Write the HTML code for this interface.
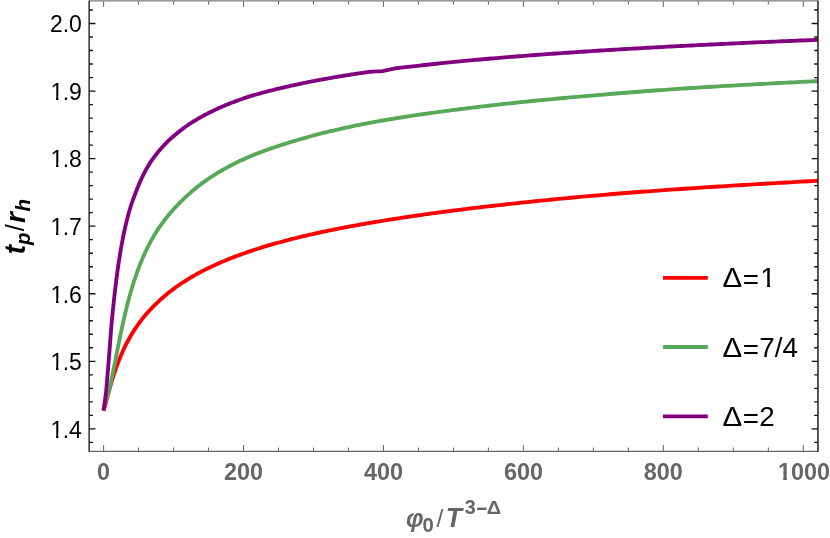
<!DOCTYPE html>
<html><head><meta charset="utf-8"><title>plot</title>
<style>html,body{margin:0;padding:0;background:#fff;}body{width:830px;height:538px;overflow:hidden;position:relative;}svg{display:block;position:absolute;left:0;top:0;}text{font-family:"Liberation Sans",sans-serif;}#labels{will-change:transform;filter:grayscale(1);}.b{font-weight:bold;}.i{font-style:italic;}</style></head><body>
<svg id="plot" width="830" height="538" viewBox="0 0 830 538">
<rect width="830" height="538" fill="#fff"/>
<defs><clipPath id="c"><rect x="89.15" y="0" width="728.8000000000001" height="451.3"/></clipPath></defs>
<g clip-path="url(#c)" fill="none" stroke-width="3.85" stroke-linejoin="round">
<path d="M103.40 410.75 L103.60 410.19 L103.60 410.18 L103.61 410.17 L103.61 410.15 L103.63 410.12 L103.64 410.07 L103.66 410.01 L103.69 409.94 L103.72 409.85 L103.75 409.75 L103.79 409.63 L103.84 409.50 L103.89 409.35 L103.94 409.18 L104.01 408.99 L104.07 408.79 L104.14 408.56 L104.22 408.31 L104.30 408.05 L104.39 407.75 L104.49 407.44 L104.59 407.10 L104.69 406.74 L104.81 406.35 L104.93 405.94 L105.05 405.51 L105.18 405.04 L105.32 404.55 L105.46 404.03 L105.61 403.49 L105.77 402.92 L105.93 402.32 L106.10 401.70 L106.27 401.05 L106.45 400.38 L106.64 399.67 L106.83 398.95 L107.04 398.19 L107.24 397.42 L107.46 396.61 L107.68 395.79 L107.91 394.94 L108.14 394.07 L108.38 393.18 L108.63 392.27 L108.89 391.34 L109.15 390.39 L109.42 389.42 L109.69 388.43 L109.97 387.43 L110.26 386.41 L110.56 385.38 L110.86 384.33 L111.18 383.27 L111.49 382.20 L111.82 381.11 L112.15 380.02 L112.49 378.91 L112.84 377.80 L113.19 376.67 L113.55 375.54 L113.92 374.41 L114.30 373.26 L114.68 372.11 L115.07 370.96 L115.47 369.80 L115.87 368.63 L116.29 367.47 L116.71 366.30 L117.13 365.13 L117.57 363.95 L118.01 362.78 L118.46 361.61 L118.92 360.43 L119.39 359.26 L119.86 358.08 L120.34 356.91 L120.83 355.74 L121.33 354.57 L121.83 353.40 L122.34 352.24 L122.86 351.08 L123.39 349.92 L123.92 348.77 L124.46 347.61 L125.01 346.47 L125.57 345.34 L126.14 344.22 L126.71 343.11 L127.29 342.00 L127.88 340.90 L128.48 339.80 L129.09 338.70 L129.70 337.61 L130.32 336.53 L130.95 335.45 L131.59 334.38 L132.23 333.32 L132.89 332.26 L133.55 331.21 L134.22 330.16 L134.90 329.12 L135.58 328.08 L136.28 327.06 L136.98 326.03 L137.69 325.02 L138.41 324.01 L139.13 323.01 L139.87 322.01 L140.61 321.03 L141.36 320.05 L142.12 319.07 L142.89 318.11 L143.66 317.15 L144.45 316.20 L145.24 315.26 L146.04 314.32 L146.85 313.40 L147.67 312.48 L148.49 311.56 L149.33 310.65 L150.17 309.75 L151.02 308.85 L151.88 307.96 L152.75 307.07 L153.62 306.19 L154.51 305.31 L155.40 304.43 L156.30 303.56 L157.21 302.69 L158.13 301.82 L159.06 300.96 L160.00 300.10 L160.94 299.24 L161.89 298.38 L162.85 297.53 L163.82 296.69 L164.80 295.86 L165.79 295.03 L166.79 294.20 L167.79 293.38 L168.80 292.57 L169.82 291.76 L170.85 290.96 L171.89 290.17 L172.94 289.38 L174.00 288.59 L175.06 287.81 L176.14 287.04 L177.22 286.27 L178.31 285.51 L179.41 284.75 L180.52 284.00 L181.64 283.25 L182.76 282.51 L183.90 281.77 L185.04 281.04 L186.20 280.31 L187.36 279.59 L188.53 278.87 L189.71 278.16 L190.90 277.45 L192.09 276.75 L193.30 276.05 L194.52 275.36 L195.74 274.67 L196.97 273.99 L198.21 273.31 L199.47 272.64 L200.73 271.97 L201.99 271.30 L203.27 270.64 L204.56 269.99 L205.85 269.34 L207.16 268.69 L208.47 268.05 L209.80 267.41 L211.13 266.77 L212.47 266.14 L213.82 265.52 L215.18 264.89 L216.55 264.28 L217.92 263.66 L219.31 263.05 L220.71 262.45 L222.11 261.84 L223.53 261.25 L224.95 260.65 L226.38 260.06 L227.82 259.47 L229.27 258.89 L230.73 258.31 L232.20 257.74 L233.68 257.17 L235.17 256.60 L236.66 256.03 L238.17 255.47 L239.68 254.91 L241.21 254.36 L242.74 253.81 L244.28 253.26 L245.84 252.72 L247.40 252.18 L248.97 251.64 L250.55 251.11 L252.14 250.58 L253.74 250.05 L255.35 249.52 L256.96 249.00 L258.59 248.49 L260.23 247.97 L261.87 247.46 L263.53 246.95 L265.19 246.44 L266.86 245.94 L268.55 245.44 L270.24 244.95 L271.94 244.45 L273.65 243.96 L275.37 243.47 L277.10 242.99 L278.84 242.51 L280.59 242.03 L282.35 241.55 L284.12 241.08 L285.90 240.61 L287.69 240.14 L289.48 239.67 L291.29 239.21 L293.10 238.75 L294.93 238.29 L296.76 237.84 L298.61 237.38 L300.46 236.93 L302.33 236.49 L304.20 236.04 L306.08 235.60 L307.98 235.16 L309.88 234.72 L311.79 234.29 L313.71 233.85 L315.64 233.42 L317.58 233.00 L319.53 232.57 L321.49 232.15 L323.46 231.73 L325.44 231.31 L327.43 230.89 L329.43 230.48 L331.43 230.06 L333.45 229.65 L335.48 229.25 L337.52 228.84 L339.56 228.44 L341.62 228.04 L343.69 227.64 L345.76 227.24 L347.85 226.85 L349.95 226.45 L352.05 226.06 L354.17 225.67 L356.29 225.29 L358.43 224.90 L360.57 224.52 L362.73 224.14 L364.89 223.76 L367.06 223.38 L369.25 223.01 L371.44 222.63 L373.65 222.26 L375.86 221.89 L378.08 221.53 L380.32 221.16 L382.56 220.80 L384.81 220.44 L387.07 220.07 L389.35 219.71 L391.63 219.36 L393.92 219.00 L396.22 218.64 L398.54 218.28 L400.86 217.93 L403.19 217.58 L405.53 217.22 L407.89 216.87 L410.25 216.52 L412.62 216.17 L415.00 215.83 L417.39 215.48 L419.80 215.13 L422.21 214.79 L424.63 214.45 L427.06 214.11 L429.50 213.77 L431.96 213.43 L434.42 213.09 L436.89 212.76 L439.37 212.42 L441.87 212.09 L444.37 211.76 L446.88 211.43 L449.40 211.10 L451.93 210.78 L454.48 210.45 L457.03 210.13 L459.59 209.81 L462.17 209.49 L464.75 209.17 L467.34 208.85 L469.94 208.53 L472.56 208.21 L475.18 207.90 L477.82 207.58 L480.46 207.27 L483.11 206.96 L485.78 206.65 L488.45 206.34 L491.14 206.03 L493.83 205.72 L496.54 205.41 L499.25 205.11 L501.98 204.80 L504.71 204.50 L507.46 204.20 L510.21 203.90 L512.98 203.60 L515.75 203.30 L518.54 203.00 L521.34 202.70 L524.15 202.41 L526.96 202.11 L529.79 201.82 L532.63 201.53 L535.48 201.24 L538.33 200.94 L541.20 200.65 L544.08 200.36 L546.97 200.07 L549.87 199.78 L552.78 199.49 L555.70 199.20 L558.63 198.92 L561.57 198.63 L564.52 198.34 L567.48 198.06 L570.46 197.78 L573.44 197.50 L576.43 197.22 L579.43 196.94 L582.45 196.66 L585.47 196.39 L588.51 196.12 L591.55 195.85 L594.60 195.59 L597.67 195.32 L600.75 195.06 L603.83 194.80 L606.93 194.55 L610.04 194.29 L613.15 194.03 L616.28 193.78 L619.42 193.53 L622.57 193.27 L625.73 193.02 L628.90 192.78 L632.08 192.53 L635.27 192.28 L638.47 192.04 L641.68 191.79 L644.90 191.55 L648.13 191.31 L651.38 191.07 L654.63 190.83 L657.89 190.60 L661.17 190.36 L664.45 190.13 L667.75 189.90 L671.06 189.67 L674.37 189.44 L677.70 189.21 L681.04 188.98 L684.39 188.75 L687.75 188.53 L691.11 188.30 L694.49 188.08 L697.89 187.85 L701.29 187.63 L704.70 187.41 L708.12 187.18 L711.55 186.96 L715.00 186.74 L718.45 186.52 L721.92 186.31 L725.39 186.09 L728.88 185.87 L732.37 185.66 L735.88 185.44 L739.40 185.23 L742.93 185.01 L746.47 184.80 L750.02 184.59 L753.58 184.38 L757.15 184.17 L760.73 183.96 L764.32 183.75 L767.93 183.54 L771.54 183.33 L775.17 183.12 L778.80 182.92 L782.45 182.71 L786.11 182.51 L789.77 182.30 L793.45 182.10 L797.14 181.90 L800.84 181.70 L804.55 181.49 L808.27 181.29 L812.00 181.09 L815.75 180.90 L819.50 180.70" stroke="#ff0000"/>
<path d="M103.52 410.53 L103.60 409.94 L103.60 409.93 L103.61 409.90 L103.61 409.84 L103.63 409.75 L103.64 409.64 L103.66 409.50 L103.69 409.32 L103.72 409.12 L103.75 408.89 L103.79 408.63 L103.84 408.35 L103.89 408.04 L103.94 407.71 L104.01 407.36 L104.07 406.99 L104.14 406.60 L104.22 406.20 L104.30 405.79 L104.39 405.37 L104.49 404.94 L104.59 404.50 L104.69 404.06 L104.81 403.61 L104.93 403.15 L105.05 402.70 L105.18 402.23 L105.32 401.76 L105.46 401.29 L105.61 400.81 L105.77 400.32 L105.93 399.82 L106.10 399.30 L106.27 398.77 L106.45 398.23 L106.64 397.66 L106.83 397.07 L107.04 396.45 L107.24 395.81 L107.46 395.13 L107.68 394.42 L107.91 393.67 L108.14 392.87 L108.38 392.04 L108.63 391.16 L108.89 390.22 L109.15 389.24 L109.42 388.20 L109.69 387.11 L109.97 385.97 L110.26 384.76 L110.56 383.50 L110.86 382.17 L111.18 380.79 L111.49 379.35 L111.82 377.85 L112.15 376.29 L112.49 374.67 L112.84 372.99 L113.19 371.26 L113.55 369.48 L113.92 367.64 L114.30 365.75 L114.68 363.81 L115.07 361.83 L115.47 359.80 L115.87 357.73 L116.29 355.63 L116.71 353.48 L117.13 351.30 L117.57 349.10 L118.01 346.86 L118.46 344.60 L118.92 342.32 L119.39 340.01 L119.86 337.69 L120.34 335.36 L120.83 333.02 L121.33 330.66 L121.83 328.30 L122.34 325.94 L122.86 323.57 L123.39 321.21 L123.92 318.85 L124.46 316.49 L125.01 314.14 L125.57 311.79 L126.14 309.46 L126.71 307.14 L127.29 304.83 L127.88 302.54 L128.48 300.26 L129.09 297.99 L129.70 295.75 L130.32 293.53 L130.95 291.34 L131.59 289.17 L132.23 287.02 L132.89 284.89 L133.55 282.79 L134.22 280.70 L134.90 278.64 L135.58 276.61 L136.28 274.60 L136.98 272.61 L137.69 270.65 L138.41 268.71 L139.13 266.79 L139.87 264.90 L140.61 263.03 L141.36 261.19 L142.12 259.37 L142.89 257.58 L143.66 255.81 L144.45 254.06 L145.24 252.34 L146.04 250.64 L146.85 248.97 L147.67 247.31 L148.49 245.68 L149.33 244.07 L150.17 242.49 L151.02 240.92 L151.88 239.38 L152.75 237.85 L153.62 236.35 L154.51 234.86 L155.40 233.40 L156.30 231.95 L157.21 230.52 L158.13 229.12 L159.06 227.73 L160.00 226.37 L160.94 225.02 L161.89 223.70 L162.85 222.39 L163.82 221.09 L164.80 219.81 L165.79 218.54 L166.79 217.28 L167.79 216.03 L168.80 214.79 L169.82 213.57 L170.85 212.36 L171.89 211.16 L172.94 209.98 L174.00 208.81 L175.06 207.65 L176.14 206.50 L177.22 205.36 L178.31 204.23 L179.41 203.10 L180.52 201.97 L181.64 200.86 L182.76 199.76 L183.90 198.66 L185.04 197.58 L186.20 196.50 L187.36 195.44 L188.53 194.38 L189.71 193.34 L190.90 192.30 L192.09 191.28 L193.30 190.26 L194.52 189.25 L195.74 188.25 L196.97 187.25 L198.21 186.26 L199.47 185.29 L200.73 184.32 L201.99 183.36 L203.27 182.42 L204.56 181.49 L205.85 180.57 L207.16 179.66 L208.47 178.76 L209.80 177.87 L211.13 176.99 L212.47 176.12 L213.82 175.26 L215.18 174.40 L216.55 173.56 L217.92 172.72 L219.31 171.89 L220.71 171.07 L222.11 170.26 L223.53 169.45 L224.95 168.66 L226.38 167.87 L227.82 167.09 L229.27 166.31 L230.73 165.54 L232.20 164.78 L233.68 164.03 L235.17 163.28 L236.66 162.54 L238.17 161.81 L239.68 161.08 L241.21 160.36 L242.74 159.65 L244.28 158.95 L245.84 158.25 L247.40 157.57 L248.97 156.89 L250.55 156.21 L252.14 155.55 L253.74 154.89 L255.35 154.25 L256.96 153.60 L258.59 152.97 L260.23 152.34 L261.87 151.72 L263.53 151.11 L265.19 150.50 L266.86 149.89 L268.55 149.30 L270.24 148.70 L271.94 148.12 L273.65 147.53 L275.37 146.96 L277.10 146.38 L278.84 145.81 L280.59 145.24 L282.35 144.68 L284.12 144.12 L285.90 143.56 L287.69 143.00 L289.48 142.45 L291.29 141.90 L293.10 141.35 L294.93 140.80 L296.76 140.25 L298.61 139.71 L300.46 139.17 L302.33 138.63 L304.20 138.10 L306.08 137.57 L307.98 137.04 L309.88 136.51 L311.79 135.99 L313.71 135.47 L315.64 134.95 L317.58 134.44 L319.53 133.94 L321.49 133.43 L323.46 132.93 L325.44 132.44 L327.43 131.95 L329.43 131.47 L331.43 130.99 L333.45 130.51 L335.48 130.04 L337.52 129.57 L339.56 129.10 L341.62 128.63 L343.69 128.17 L345.76 127.71 L347.85 127.26 L349.95 126.81 L352.05 126.36 L354.17 125.92 L356.29 125.48 L358.43 125.04 L360.57 124.61 L362.73 124.18 L364.89 123.76 L367.06 123.34 L369.25 122.93 L371.44 122.52 L373.65 122.11 L375.86 121.71 L378.08 121.31 L380.32 120.92 L382.56 120.52 L384.81 120.13 L387.07 119.75 L389.35 119.36 L391.63 118.98 L393.92 118.60 L396.22 118.23 L398.54 117.86 L400.86 117.49 L403.19 117.12 L405.53 116.76 L407.89 116.39 L410.25 116.03 L412.62 115.68 L415.00 115.32 L417.39 114.97 L419.80 114.62 L422.21 114.27 L424.63 113.92 L427.06 113.57 L429.50 113.23 L431.96 112.89 L434.42 112.55 L436.89 112.21 L439.37 111.87 L441.87 111.54 L444.37 111.20 L446.88 110.87 L449.40 110.54 L451.93 110.21 L454.48 109.88 L457.03 109.55 L459.59 109.22 L462.17 108.90 L464.75 108.58 L467.34 108.25 L469.94 107.93 L472.56 107.61 L475.18 107.30 L477.82 106.98 L480.46 106.67 L483.11 106.36 L485.78 106.04 L488.45 105.73 L491.14 105.43 L493.83 105.12 L496.54 104.82 L499.25 104.51 L501.98 104.21 L504.71 103.91 L507.46 103.61 L510.21 103.32 L512.98 103.02 L515.75 102.73 L518.54 102.44 L521.34 102.15 L524.15 101.86 L526.96 101.57 L529.79 101.29 L532.63 101.00 L535.48 100.72 L538.33 100.44 L541.20 100.16 L544.08 99.88 L546.97 99.60 L549.87 99.32 L552.78 99.05 L555.70 98.77 L558.63 98.50 L561.57 98.23 L564.52 97.96 L567.48 97.69 L570.46 97.42 L573.44 97.15 L576.43 96.89 L579.43 96.62 L582.45 96.36 L585.47 96.10 L588.51 95.84 L591.55 95.58 L594.60 95.32 L597.67 95.06 L600.75 94.80 L603.83 94.55 L606.93 94.29 L610.04 94.03 L613.15 93.78 L616.28 93.52 L619.42 93.27 L622.57 93.01 L625.73 92.76 L628.90 92.51 L632.08 92.25 L635.27 92.00 L638.47 91.75 L641.68 91.51 L644.90 91.26 L648.13 91.01 L651.38 90.77 L654.63 90.53 L657.89 90.29 L661.17 90.05 L664.45 89.82 L667.75 89.58 L671.06 89.35 L674.37 89.13 L677.70 88.90 L681.04 88.68 L684.39 88.46 L687.75 88.25 L691.11 88.03 L694.49 87.82 L697.89 87.61 L701.29 87.39 L704.70 87.18 L708.12 86.97 L711.55 86.77 L715.00 86.56 L718.45 86.35 L721.92 86.15 L725.39 85.95 L728.88 85.75 L732.37 85.55 L735.88 85.35 L739.40 85.15 L742.93 84.95 L746.47 84.76 L750.02 84.57 L753.58 84.37 L757.15 84.18 L760.73 83.99 L764.32 83.80 L767.93 83.61 L771.54 83.42 L775.17 83.23 L778.80 83.04 L782.45 82.86 L786.11 82.67 L789.77 82.49 L793.45 82.30 L797.14 82.12 L800.84 81.94 L804.55 81.76 L808.27 81.58 L812.00 81.40 L815.75 81.22 L819.50 81.04" stroke="#57a857"/>
<path d="M103.56 410.53 L103.64 409.94 L103.65 409.92 L103.66 409.86 L103.67 409.75 L103.70 409.58 L103.73 409.36 L103.77 409.07 L103.82 408.72 L103.88 408.31 L103.95 407.83 L104.03 407.28 L104.12 406.66 L104.22 405.98 L104.33 405.22 L104.44 404.39 L104.57 403.50 L104.70 402.53 L104.84 401.49 L104.98 400.38 L105.14 399.20 L105.30 397.94 L105.48 396.62 L105.67 395.22 L105.86 393.76 L106.05 392.23 L106.22 390.63 L106.38 388.96 L106.52 387.23 L106.66 385.43 L106.81 383.56 L106.97 381.64 L107.13 379.65 L107.30 377.60 L107.47 375.49 L107.65 373.32 L107.84 371.10 L108.03 368.83 L108.22 366.50 L108.42 364.12 L108.62 361.69 L108.82 359.21 L109.02 356.69 L109.23 354.13 L109.44 351.52 L109.64 348.87 L109.83 346.19 L110.03 343.47 L110.24 340.72 L110.45 337.93 L110.67 335.12 L110.88 332.28 L111.10 329.41 L111.34 326.52 L111.59 323.61 L111.86 320.69 L112.14 317.74 L112.44 314.78 L112.74 311.81 L113.05 308.83 L113.36 305.84 L113.67 302.84 L114.00 299.84 L114.32 296.84 L114.66 293.84 L115.01 290.84 L115.36 287.84 L115.71 284.85 L116.08 281.87 L116.45 278.89 L116.83 275.93 L117.23 272.97 L117.63 270.03 L118.04 267.11 L118.46 264.20 L118.90 261.32 L119.35 258.45 L119.80 255.60 L120.26 252.79 L120.73 249.99 L121.21 247.23 L121.70 244.48 L122.20 241.77 L122.71 239.09 L123.24 236.44 L123.77 233.82 L124.31 231.22 L124.87 228.67 L125.45 226.14 L126.03 223.65 L126.63 221.19 L127.24 218.77 L127.86 216.38 L128.49 214.03 L129.13 211.71 L129.79 209.43 L130.45 207.19 L131.14 204.99 L131.87 202.83 L132.63 200.71 L133.39 198.63 L134.16 196.59 L134.91 194.58 L135.65 192.61 L136.40 190.68 L137.15 188.78 L137.90 186.92 L138.66 185.08 L139.43 183.28 L140.20 181.51 L140.99 179.76 L141.78 178.05 L142.58 176.37 L143.40 174.72 L144.22 173.09 L145.05 171.51 L145.89 169.95 L146.74 168.42 L147.60 166.92 L148.47 165.46 L149.35 164.02 L150.24 162.62 L151.15 161.25 L152.08 159.92 L153.01 158.61 L153.95 157.34 L154.88 156.10 L155.81 154.88 L156.74 153.69 L157.68 152.52 L158.63 151.38 L159.57 150.25 L160.53 149.14 L161.48 148.05 L162.44 146.97 L163.39 145.91 L164.35 144.87 L165.32 143.85 L166.30 142.85 L167.29 141.86 L168.29 140.89 L169.29 139.94 L170.30 139.00 L171.32 138.08 L172.35 137.18 L173.39 136.29 L174.44 135.42 L175.50 134.55 L176.55 133.69 L177.61 132.83 L178.67 131.97 L179.73 131.13 L180.80 130.29 L181.87 129.46 L182.95 128.63 L184.04 127.82 L185.14 127.02 L186.25 126.24 L187.37 125.46 L188.50 124.70 L189.63 123.94 L190.77 123.19 L191.92 122.45 L193.07 121.72 L194.24 121.00 L195.41 120.28 L196.59 119.57 L197.78 118.87 L198.98 118.18 L200.19 117.49 L201.42 116.81 L202.65 116.13 L203.89 115.46 L205.15 114.79 L206.42 114.13 L207.69 113.48 L208.98 112.83 L210.27 112.18 L211.58 111.54 L212.90 110.90 L214.22 110.26 L215.56 109.62 L216.90 108.99 L218.25 108.36 L219.62 107.75 L220.99 107.14 L222.37 106.54 L223.76 105.95 L225.16 105.36 L226.57 104.78 L227.99 104.20 L229.42 103.63 L230.85 103.06 L232.30 102.50 L233.76 101.94 L235.22 101.38 L236.70 100.83 L238.18 100.28 L239.68 99.74 L241.21 99.22 L242.74 98.70 L244.28 98.18 L245.84 97.67 L247.40 97.17 L248.97 96.67 L250.55 96.17 L252.14 95.68 L253.74 95.20 L255.35 94.72 L256.96 94.25 L258.59 93.79 L260.23 93.33 L261.87 92.88 L263.53 92.43 L265.19 91.99 L266.86 91.55 L268.55 91.11 L270.24 90.68 L271.94 90.26 L273.65 89.83 L275.37 89.41 L277.10 88.99 L278.84 88.58 L280.59 88.17 L282.35 87.76 L284.12 87.35 L285.90 86.94 L287.69 86.54 L289.48 86.13 L291.29 85.73 L293.10 85.33 L294.93 84.93 L296.76 84.54 L298.61 84.14 L300.46 83.75 L302.33 83.37 L304.20 82.98 L306.08 82.60 L307.98 82.21 L309.88 81.83 L311.79 81.46 L313.71 81.08 L315.64 80.71 L317.58 80.34 L319.53 79.97 L321.49 79.61 L323.46 79.25 L325.44 78.89 L327.43 78.53 L329.43 78.17 L331.43 77.82 L333.45 77.47 L335.48 77.12 L337.52 76.77 L339.56 76.43 L341.62 76.09 L343.69 75.75 L345.76 75.41 L347.85 75.08 L349.95 74.75 L352.05 74.42 L354.17 74.09 L356.29 73.77 L358.43 73.45 L360.57 73.13 L362.73 72.81 L364.89 72.50 L367.06 72.20 L369.25 71.95 L371.44 71.75 L373.65 71.58 L375.86 71.43 L378.08 71.34 L380.32 71.30 L382.56 71.12 L384.81 70.69 L387.07 70.16 L389.35 69.62 L391.63 69.02 L393.92 68.57 L396.22 68.28 L398.54 67.99 L400.86 67.71 L403.19 67.43 L405.53 67.15 L407.89 66.88 L410.25 66.60 L412.62 66.33 L415.00 66.07 L417.39 65.80 L419.80 65.54 L422.21 65.28 L424.63 65.02 L427.06 64.76 L429.50 64.50 L431.96 64.24 L434.42 63.98 L436.89 63.72 L439.37 63.46 L441.87 63.20 L444.37 62.94 L446.88 62.68 L449.40 62.43 L451.93 62.17 L454.48 61.92 L457.03 61.67 L459.59 61.42 L462.17 61.17 L464.75 60.92 L467.34 60.68 L469.94 60.43 L472.56 60.19 L475.18 59.95 L477.82 59.71 L480.46 59.47 L483.11 59.24 L485.78 59.00 L488.45 58.77 L491.14 58.54 L493.83 58.31 L496.54 58.08 L499.25 57.85 L501.98 57.62 L504.71 57.40 L507.46 57.17 L510.21 56.95 L512.98 56.73 L515.75 56.51 L518.54 56.29 L521.34 56.07 L524.15 55.85 L526.96 55.64 L529.79 55.42 L532.63 55.21 L535.48 54.99 L538.33 54.78 L541.20 54.57 L544.08 54.36 L546.97 54.15 L549.87 53.94 L552.78 53.73 L555.70 53.53 L558.63 53.32 L561.57 53.12 L564.52 52.91 L567.48 52.71 L570.46 52.51 L573.44 52.30 L576.43 52.10 L579.43 51.90 L582.45 51.71 L585.47 51.51 L588.51 51.31 L591.55 51.12 L594.60 50.92 L597.67 50.73 L600.75 50.54 L603.83 50.35 L606.93 50.16 L610.04 49.97 L613.15 49.78 L616.28 49.59 L619.42 49.41 L622.57 49.22 L625.73 49.04 L628.90 48.85 L632.08 48.67 L635.27 48.48 L638.47 48.30 L641.68 48.12 L644.90 47.94 L648.13 47.76 L651.38 47.58 L654.63 47.40 L657.89 47.22 L661.17 47.05 L664.45 46.87 L667.75 46.69 L671.06 46.52 L674.37 46.35 L677.70 46.17 L681.04 46.00 L684.39 45.83 L687.75 45.66 L691.11 45.49 L694.49 45.32 L697.89 45.15 L701.29 44.98 L704.70 44.81 L708.12 44.64 L711.55 44.47 L715.00 44.31 L718.45 44.14 L721.92 43.97 L725.39 43.81 L728.88 43.65 L732.37 43.48 L735.88 43.32 L739.40 43.16 L742.93 43.00 L746.47 42.84 L750.02 42.68 L753.58 42.52 L757.15 42.36 L760.73 42.20 L764.32 42.05 L767.93 41.89 L771.54 41.73 L775.17 41.58 L778.80 41.42 L782.45 41.27 L786.11 41.12 L789.77 40.96 L793.45 40.81 L797.14 40.66 L800.84 40.51 L804.55 40.36 L808.27 40.21 L812.00 40.06 L815.75 39.91 L819.50 39.77" stroke="#800080"/>
</g>
<rect x="88.75" y="0" width="729.6" height="1.65" fill="#9a9a9a"/>
<line x1="89.15" y1="451.3" x2="817.95" y2="451.3" stroke="#666" stroke-width="1.15"/>
<path d="M103.60 451.3 v-6.2 M103.60 1.2 v5.7 M138.58 451.3 v-3.8 M138.58 1.2 v3.3 M173.57 451.3 v-3.8 M173.57 1.2 v3.3 M208.56 451.3 v-3.8 M208.56 1.2 v3.3 M243.54 451.3 v-6.2 M243.54 1.2 v5.7 M278.52 451.3 v-3.8 M278.52 1.2 v3.3 M313.51 451.3 v-3.8 M313.51 1.2 v3.3 M348.50 451.3 v-3.8 M348.50 1.2 v3.3 M383.48 451.3 v-6.2 M383.48 1.2 v5.7 M418.47 451.3 v-3.8 M418.47 1.2 v3.3 M453.45 451.3 v-3.8 M453.45 1.2 v3.3 M488.43 451.3 v-3.8 M488.43 1.2 v3.3 M523.42 451.3 v-6.2 M523.42 1.2 v5.7 M558.40 451.3 v-3.8 M558.40 1.2 v3.3 M593.39 451.3 v-3.8 M593.39 1.2 v3.3 M628.38 451.3 v-3.8 M628.38 1.2 v3.3 M663.36 451.3 v-6.2 M663.36 1.2 v5.7 M698.35 451.3 v-3.8 M698.35 1.2 v3.3 M733.33 451.3 v-3.8 M733.33 1.2 v3.3 M768.32 451.3 v-3.8 M768.32 1.2 v3.3 M803.30 451.3 v-6.2 M803.30 1.2 v5.7" stroke="#6a6a6a" stroke-width="1.05" fill="none"/>
<path d="M89.15 442.37 h3.7 M817.95 442.37 h-3.7 M89.15 428.86 h6.3 M817.95 428.86 h-6.3 M89.15 415.35 h3.7 M817.95 415.35 h-3.7 M89.15 401.84 h3.7 M817.95 401.84 h-3.7 M89.15 388.32 h3.7 M817.95 388.32 h-3.7 M89.15 374.81 h3.7 M817.95 374.81 h-3.7 M89.15 361.30 h6.3 M817.95 361.30 h-6.3 M89.15 347.79 h3.7 M817.95 347.79 h-3.7 M89.15 334.28 h3.7 M817.95 334.28 h-3.7 M89.15 320.76 h3.7 M817.95 320.76 h-3.7 M89.15 307.25 h3.7 M817.95 307.25 h-3.7 M89.15 293.74 h6.3 M817.95 293.74 h-6.3 M89.15 280.23 h3.7 M817.95 280.23 h-3.7 M89.15 266.72 h3.7 M817.95 266.72 h-3.7 M89.15 253.20 h3.7 M817.95 253.20 h-3.7 M89.15 239.69 h3.7 M817.95 239.69 h-3.7 M89.15 226.18 h6.3 M817.95 226.18 h-6.3 M89.15 212.67 h3.7 M817.95 212.67 h-3.7 M89.15 199.16 h3.7 M817.95 199.16 h-3.7 M89.15 185.64 h3.7 M817.95 185.64 h-3.7 M89.15 172.13 h3.7 M817.95 172.13 h-3.7 M89.15 158.62 h6.3 M817.95 158.62 h-6.3 M89.15 145.11 h3.7 M817.95 145.11 h-3.7 M89.15 131.60 h3.7 M817.95 131.60 h-3.7 M89.15 118.08 h3.7 M817.95 118.08 h-3.7 M89.15 104.57 h3.7 M817.95 104.57 h-3.7 M89.15 91.06 h6.3 M817.95 91.06 h-6.3 M89.15 77.55 h3.7 M817.95 77.55 h-3.7 M89.15 64.04 h3.7 M817.95 64.04 h-3.7 M89.15 50.52 h3.7 M817.95 50.52 h-3.7 M89.15 37.01 h3.7 M817.95 37.01 h-3.7 M89.15 23.50 h6.3 M817.95 23.50 h-6.3 M89.15 9.99 h3.7 M817.95 9.99 h-3.7" stroke="#111" stroke-width="1.35" fill="none"/>
<line x1="89.15" y1="0.8" x2="89.15" y2="451.85" stroke="#1e1e1e" stroke-width="1.4"/>
<line x1="817.95" y1="0.8" x2="817.95" y2="451.85" stroke="#1e1e1e" stroke-width="1.5"/>
<line x1="663" y1="277.8" x2="707.8" y2="277.8" stroke="#ff0000" stroke-width="3.8"/>
<line x1="663" y1="347.0" x2="707.8" y2="347.0" stroke="#57a857" stroke-width="3.8"/>
<line x1="663" y1="416.45" x2="707.8" y2="416.45" stroke="#800080" stroke-width="3.8"/>
</svg>
<svg id="labels" width="830" height="538" viewBox="0 0 830 538">
<defs><clipPath id="k0"><polygon points="-2.30,-23.00 16.10,-23.00 16.10,-4.60 8.00,-4.60 8.00,2.30 5.59,2.30 5.59,-4.60 -2.30,-4.60"/></clipPath><clipPath id="k1"><polygon points="-2.34,-23.40 16.38,-23.40 16.38,-4.68 8.87,-4.68 8.87,2.34 5.26,2.34 5.26,-4.68 -2.34,-4.68"/></clipPath><clipPath id="k2"><polygon points="-2.78,-27.80 19.46,-27.80 19.46,-5.56 9.67,-5.56 9.67,2.78 6.76,2.78 6.76,-5.56 -2.78,-5.56"/></clipPath></defs>
<text transform="translate(50.43 437.66) scale(1 1.03)" font-size="23" fill="#000" clip-path="url(#k0)">1</text>
<text transform="translate(62.72 437.66) scale(1.0 1.03)" font-size="23" fill="#000">.4</text>
<text transform="translate(50.43 370.10) scale(1 1.03)" font-size="23" fill="#000" clip-path="url(#k0)">1</text>
<text transform="translate(62.72 370.10) scale(1.0 1.03)" font-size="23" fill="#000">.5</text>
<text transform="translate(50.43 302.54) scale(1 1.03)" font-size="23" fill="#000" clip-path="url(#k0)">1</text>
<text transform="translate(62.72 302.54) scale(1.0 1.03)" font-size="23" fill="#000">.6</text>
<text transform="translate(50.43 234.98) scale(1 1.03)" font-size="23" fill="#000" clip-path="url(#k0)">1</text>
<text transform="translate(62.72 234.98) scale(1.0 1.03)" font-size="23" fill="#000">.7</text>
<text transform="translate(50.43 167.42) scale(1 1.03)" font-size="23" fill="#000" clip-path="url(#k0)">1</text>
<text transform="translate(62.72 167.42) scale(1.0 1.03)" font-size="23" fill="#000">.8</text>
<text transform="translate(50.43 99.86) scale(1 1.03)" font-size="23" fill="#000" clip-path="url(#k0)">1</text>
<text transform="translate(62.72 99.86) scale(1.0 1.03)" font-size="23" fill="#000">.9</text>
<text transform="translate(81.90 32.30) scale(1.0 1.03)" font-size="23" text-anchor="end" fill="#000">2.0</text>
<text transform="translate(103.60 480.00)" font-size="23.4" class="b" text-anchor="middle" fill="#666">0</text>
<text transform="translate(243.54 480.00)" font-size="23.4" class="b" text-anchor="middle" fill="#666">200</text>
<text transform="translate(383.48 480.00)" font-size="23.4" class="b" text-anchor="middle" fill="#666">400</text>
<text transform="translate(523.42 480.00)" font-size="23.4" class="b" text-anchor="middle" fill="#666">600</text>
<text transform="translate(663.36 480.00)" font-size="23.4" class="b" text-anchor="middle" fill="#666">800</text>
<text transform="translate(777.98 480.00)" font-size="23.4" class="b" fill="#666" clip-path="url(#k1)">1</text>
<text transform="translate(790.99 480.00)" font-size="23.4" class="b" fill="#666">000</text>
<text transform="translate(406.10 526.60)" font-size="25" class="b i" fill="#666">φ</text>
<text transform="translate(422.40 532.10) scale(1.0 1.04)" font-size="20.3" class="b" fill="#666">0</text>
<text transform="translate(436.50 526.80)" font-size="24.8" fill="#666">/</text>
<text transform="translate(445.80 526.70) scale(1.0 1.05)" font-size="26.5" class="b i" fill="#666">T</text>
<text transform="translate(464.80 514.20) scale(1.0 1.03)" font-size="19.8" class="b" fill="#666">3</text>
<rect x="477.1" y="507.6" width="9.3" height="2.4" fill="#666"/>
<text transform="translate(486.80 514.00) scale(1.0 0.95)" font-size="20" class="b" fill="#666">Δ</text>
<g transform="translate(24.75 254.2) rotate(-90)">
<text transform="translate(0.00 0.00) scale(1.0 1.05)" font-size="28" class="b i" fill="#000">t</text>
<text transform="translate(9.29 5.16)" font-size="20.5" class="b i" fill="#000">p</text>
<text transform="translate(23.00 -0.38)" font-size="25.3" fill="#000">/</text>
<text transform="translate(31.12 0.00)" font-size="28" class="b i" fill="#000">r</text>
<text transform="translate(42.60 5.25)" font-size="20.5" class="b i" fill="#000">h</text>
</g>
<text transform="translate(722.60 287.10) scale(1.07 1.02)" font-size="27.5" fill="#000">Δ</text>
<text transform="translate(742.80 288.90)" font-size="27.8" fill="#000">=</text>
<text transform="translate(760.34 287.10)" font-size="27.8" fill="#000" clip-path="url(#k2)">1</text>
<text transform="translate(722.60 356.70) scale(1.07 1.02)" font-size="27.5" fill="#000">Δ</text>
<text transform="translate(742.80 358.50)" font-size="27.8" fill="#000">=</text>
<text transform="translate(759.34 356.70)" font-size="27.8" fill="#000">7/4</text>
<text transform="translate(722.60 426.00) scale(1.07 1.02)" font-size="27.5" fill="#000">Δ</text>
<text transform="translate(742.80 427.80)" font-size="27.8" fill="#000">=</text>
<text transform="translate(759.34 426.00)" font-size="27.8" fill="#000">2</text>
</svg>
</body></html>
